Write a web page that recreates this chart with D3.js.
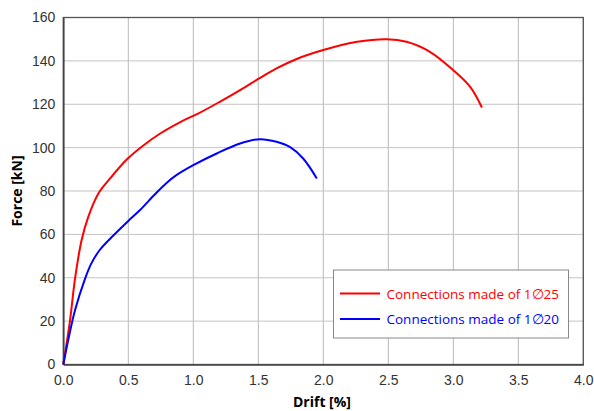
<!DOCTYPE html>
<html>
<head>
<meta charset="utf-8">
<script src="https://cdn.jsdelivr.net/npm/d3@7"></script>
<style>
    body { margin: 0; background: #fff; }
    #wrapper svg { display: block; }
</style>
</head>
<body>
<div id="wrapper"></div>
<script>
// data
const driftRed = [0, 0.052, 0.09, 0.141, 0.192, 0.27, 0.36, 0.488, 0.603, 0.745, 0.90, 1.04, 1.20, 1.36, 1.51, 1.64, 1.80, 2.0, 2.26, 2.49, 2.64, 2.82, 3.0, 3.13, 3.22]
const forceRed = [0, 20.5, 39.5, 57.4, 68.1, 78.9, 85.8, 94.5, 100.4, 106.5, 111.8, 115.8, 121, 126.5, 132, 136.5, 141, 145, 148.8, 150, 148.8, 144.2, 135.7, 128, 118.5]

const driftBlue = [0, 0.038, 0.09, 0.167, 0.215, 0.28, 0.385, 0.50, 0.59, 0.705, 0.79, 0.87, 1.0, 1.18, 1.36, 1.51, 1.64, 1.745, 1.845, 1.95]
const forceBlue = [0, 11.3, 25, 39.5, 46.5, 52.8, 59.5, 66.2, 71.2, 78.5, 83.5, 87.3, 91.9, 97.3, 101.9, 103.9, 102.7, 100.2, 95, 85.8]

const xTicks = [0, 0.5, 1, 1.5, 2, 2.5, 3, 3.5, 4]
const yTicks = [0, 20, 40, 60, 80, 100, 120, 140, 160]

const seriesNames = ["Connections made of 1\u220525", "Connections made of 1\u220520"]
const seriesColors = ["#ff0000", "#0000ff"]

function drawChart() {
    const dimensions = {
        width: 594,
        height: 411,
        margin: { top: 17.5, right: 10.7, bottom: 46.5, left: 63.3 }
    }
    dimensions.boundedWidth = dimensions.width - dimensions.margin.left - dimensions.margin.right
    dimensions.boundedHeight = dimensions.height - dimensions.margin.top - dimensions.margin.bottom

    const wrapper = d3.select("#wrapper")
        .append("svg")
        .attr("width", dimensions.width)
        .attr("height", dimensions.height)

    const bounds = wrapper.append("g")
        .attr("transform", `translate(${dimensions.margin.left},${dimensions.margin.top})`)

    // scales
    const xScale = d3.scaleLinear()
        .domain([0, 4])
        .range([0, dimensions.boundedWidth])
    const yScale = d3.scaleLinear()
        .domain([0, 160])
        .range([dimensions.boundedHeight, 0])

    // grid
    bounds.append("g")
        .selectAll("line")
        .data(xTicks)
        .join("line")
        .attr("x1", d => xScale(d))
        .attr("x2", d => xScale(d))
        .attr("y1", 0)
        .attr("y2", dimensions.boundedHeight)
        .attr("stroke", "#b8b8b8")
        .attr("stroke-width", 1)
    bounds.append("g")
        .selectAll("line")
        .data(yTicks)
        .join("line")
        .attr("x1", 0)
        .attr("x2", dimensions.boundedWidth)
        .attr("y1", d => yScale(d))
        .attr("y2", d => yScale(d))
        .attr("stroke", "#c4c4c4")
        .attr("stroke-width", 1)

    // frame
    bounds.append("rect")
        .attr("width", dimensions.boundedWidth)
        .attr("height", dimensions.boundedHeight)
        .attr("fill", "none")
        .attr("stroke", "#555")
        .attr("stroke-width", 1.3)

    // axes
    const xAxis = bounds.append("g")
        .attr("transform", `translate(0,${dimensions.boundedHeight})`)
        .call(d3.axisBottom(xScale).tickValues(xTicks).tickFormat(d3.format(".1f")).tickSize(0).tickPadding(11))
    const yAxis = bounds.append("g")
        .call(d3.axisLeft(yScale).tickValues(yTicks).tickSize(0).tickPadding(8))
    ;[xAxis, yAxis].forEach(a => {
        a.select(".domain").attr("stroke", "#444").attr("stroke-width", 1.6)
        a.selectAll("text")
            .attr("font-family", "Liberation Sans, Arial, sans-serif")
            .attr("font-size", 14)
            .attr("fill", "#333")
    })

    // axis labels
    wrapper.append("text")
        .attr("x", 322)
        .attr("y", 407)
        .attr("text-anchor", "middle")
        .attr("font-family", "Open Sans, sans-serif")
        .attr("font-weight", "bold")
        .attr("font-size", 14)
        .text("Drift [%]")
    wrapper.append("text")
        .attr("transform", `translate(22,${dimensions.margin.top + dimensions.boundedHeight / 2}) rotate(-90)`)
        .attr("text-anchor", "middle")
        .attr("font-family", "Open Sans, sans-serif")
        .attr("font-weight", "bold")
        .attr("font-size", 14)
        .text("Force [kN]")

    // curves
    const lineGenerator = d3.line()
        .x(d => xScale(d[0]))
        .y(d => yScale(d[1]))
        .curve(d3.curveCatmullRom.alpha(0.5))

    const series = [
        d3.zip(driftRed, forceRed),
        d3.zip(driftBlue, forceBlue)
    ]
    bounds.append("g")
        .selectAll("path")
        .data(series)
        .join("path")
        .attr("d", lineGenerator)
        .attr("fill", "none")
        .attr("stroke", (d, i) => seriesColors[i])
        .attr("stroke-width", 2)

    // legend
    const legend = wrapper.append("g")
        .attr("transform", "translate(333.5,270)")
    legend.append("rect")
        .attr("width", 235)
        .attr("height", 68)
        .attr("fill", "#fff")
        .attr("stroke", "#888")
        .attr("stroke-width", 1)
    const items = legend.selectAll("g")
        .data(seriesNames)
        .join("g")
        .attr("transform", (d, i) => `translate(0,${23.5 + i * 25.5})`)
    items.append("line")
        .attr("x1", 6.5)
        .attr("x2", 46.5)
        .attr("stroke", (d, i) => seriesColors[i])
        .attr("stroke-width", 2)
    items.append("text")
        .attr("x", 53)
        .attr("y", 5)
        .attr("font-family", "Open Sans, sans-serif")
        .attr("font-size", 13.5)
        .attr("fill", (d, i) => seriesColors[i])
        .text(d => d)
}

drawChart()
</script>
</body>
</html>
